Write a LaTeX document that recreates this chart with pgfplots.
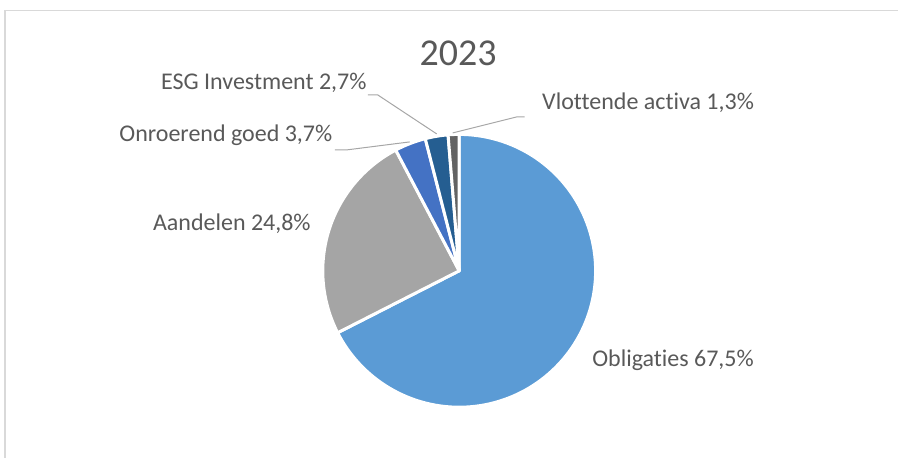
\documentclass[border=0pt]{standalone}
\usepackage{pgfplots}
\usepackage{pgfplotstable}
\pgfplotsset{compat=1.18}
\usepackage{fontspec}
\setmainfont{Carlito}[Ligatures={NoCommon}]
\definecolor{pc0}{HTML}{5B9BD5}
\definecolor{pc1}{HTML}{A5A5A5}
\definecolor{pc2}{HTML}{4472C4}
\definecolor{pc3}{HTML}{255E91}
\definecolor{pc4}{HTML}{636363}
\definecolor{txt}{HTML}{595959}
\definecolor{lead}{HTML}{A6A6A6}
\definecolor{frame}{HTML}{D9D9D9}
\pgfplotstableread{
name share
Obligaties 67.5
Aandelen 24.8
Onroerend 3.7
ESG 2.7
Vlottende 1.3
}\pietable
\def\cx{459.5}
\def\cy{187}
\def\rr{136.5}
\newcommand\pieslice[3]{%
  \addplot[fill=#3, draw=white, line width=3pt, line join=round, domain=#2:#1, samples=120, variable=\t]
    ({\cx+\rr*cos(\t)},{\cy+\rr*sin(\t)}) -- (axis cs:\cx,\cy) -- cycle;}
\begin{document}
\begin{tikzpicture}
\def\cum{0}
\pgfplotsforeachungrouped \i in {0,...,4}{%
  \pgfplotstablegetelem{\i}{share}\of\pietable
  \pgfmathsetmacro\pa{90-3.6*\cum}%
  \pgfmathsetmacro\cum{\cum+\pgfplotsretval}%
  \pgfmathsetmacro\pb{90-3.6*\cum}%
  \expandafter\xdef\csname pa\i\endcsname{\pa}%
  \expandafter\xdef\csname pb\i\endcsname{\pb}%
}
\begin{axis}[width=899pt,height=458pt,scale only axis,
  xmin=0,xmax=899,ymin=0,ymax=458,hide axis,clip=false]
\pgfplotsinvokeforeach{0,...,4}{%
  \edef\tmp{\noexpand\pieslice{\csname pa#1\endcsname}{\csname pb#1\endcsname}{pc#1}}\tmp
}
\path (axis cs:0,0) (axis cs:899,458);
% frame
\draw[frame, line width=1.2pt] (axis cs:5,0) -- (axis cs:5,447.5) -- (axis cs:899,447.5);
% leader lines
\draw[lead, line width=1pt] (axis cs:335,308) -- (axis cs:347,308) -- (axis cs:410,316);
\draw[lead, line width=1pt] (axis cs:368,363) -- (axis cs:378,363) -- (axis cs:437,324);
\draw[lead, line width=1pt] (axis cs:525,341) -- (axis cs:517,341) -- (axis cs:453,325);
% title
\node[txt, anchor=base, font=\fontsize{38}{46}\selectfont] at (axis cs:458.5,392) {2023};
% labels
\begin{scope}[every node/.style={txt, anchor=base, font=\fontsize{24}{29}\selectfont, inner sep=0pt}]
\node at (axis cs:673.5,91) {Obligaties 67,5\%};
\node at (axis cs:232,227.3) {Aandelen 24,8\%};
\node at (axis cs:226,316.3) {Onroerend goed 3,7\%};
\node at (axis cs:264,368.7) {ESG Investment 2,7\%};
\node at (axis cs:648.5,348) {Vlottende activa 1,3\%};
\end{scope}
\end{axis}
\end{tikzpicture}
\end{document}
